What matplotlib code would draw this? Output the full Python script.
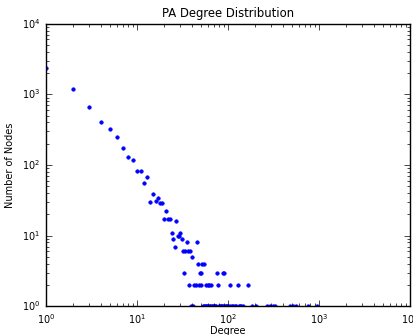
import numpy as np
import matplotlib
matplotlib.use("Agg")
import matplotlib.pyplot as plt

# degree -> number of nodes
deg_head = [1, 2, 3, 4, 5, 6, 7, 8, 9, 10, 11, 12, 13, 14, 15, 16, 17, 18, 19,
            20, 21, 22, 23, 24, 25, 26, 27, 28, 29, 30, 31, 32, 33, 34, 35, 36,
            38, 40, 46]
cnt_head = [2370, 1180, 659, 408, 325, 248, 175, 131, 117, 82, 81, 55, 68, 30,
            39, 31, 34, 29, 29, 17, 22, 17, 17, 11, 9, 7, 16, 10, 10, 11, 9, 6,
            3, 6, 8, 6, 6, 5, 8]

deg_four = [47, 52, 55]
deg_three = [49, 50, 76, 88, 91]
deg_two = [37, 42, 44, 48, 51, 57, 60, 62, 65, 78, 104, 128, 167]
deg_one = [39, 41, 53, 54, 56, 58, 59, 61, 63, 64, 66, 68, 70, 72, 74, 79, 81,
           84, 86, 89, 93, 95, 98, 101, 106, 110, 113, 118, 122, 131, 136, 140,
           146, 182, 205, 270, 290, 315, 330, 480, 520, 560, 760, 950]

degrees = deg_head + deg_four + deg_three + deg_two + deg_one
counts = (cnt_head + [4] * len(deg_four) + [3] * len(deg_three)
          + [2] * len(deg_two) + [1] * len(deg_one))

plt.style.use("classic")
plt.rcParams["font.size"] = 7
plt.rcParams["axes.titlesize"] = 8.4
plt.rcParams["axes.labelsize"] = 7

fig = plt.figure(figsize=(4.14, 3.35), dpi=100, facecolor="white")
ax = fig.add_axes([0.1111, 0.0857, 0.8792, 0.8436])

ax.plot(degrees, counts, "b.", markersize=5)
ax.set_xscale("log")
ax.set_yscale("log")
ax.set_xlim(1, 1e4)
ax.set_ylim(1, 1e4)
ax.set_title("PA Degree Distribution")
ax.set_xlabel("Degree", labelpad=0)
ax.set_ylabel("Number of Nodes")

fig.savefig("out.png", dpi=100, facecolor="white")
